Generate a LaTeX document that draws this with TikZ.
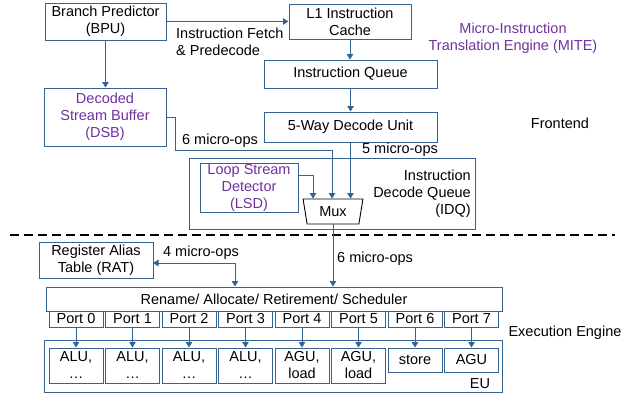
\documentclass[tikz,border=0pt]{standalone}
\usepackage{fontspec}
\setmainfont{Liberation Sans}
\usetikzlibrary{arrows.meta,shapes.geometric,calc}
\definecolor{bblue}{HTML}{36628F}
\definecolor{purp}{HTML}{7030A0}
\newcommand\mybox[7][]{\node[box,#1,minimum width={#5-#3},minimum height={#6-#4}] (#2) at ({(#3+#5)/2},{(#4+#6)/2}) {#7};}
\begin{document}
\begin{tikzpicture}[x=1pt,y=-1pt,
 box/.style={draw=bblue,line width=1pt,inner sep=0pt,align=center,font=\fontsize{14.5}{17}\selectfont},
 arr/.style={draw=bblue,line width=1pt,-{Triangle[length=5.5pt,width=6.5pt]}},
 lbl/.style={inner sep=0pt,align=center,font=\fontsize{14.5}{17}\selectfont},
 ptxt/.style={text=purp}]
\useasboundingbox (0,0) rectangle (635,394);
% frontend boxes
\mybox{bpu}{45}{3}{166}{40}{Branch Predictor\\(BPU)}
\mybox{l1}{289}{4}{411}{39}{L1 Instruction\\Cache}
\mybox{iq}{264}{60}{437}{88}{Instruction Queue}
\mybox{dec}{264}{112}{437}{142}{5-Way Decode Unit}
\mybox[ptxt]{dsb}{44}{88}{166}{146}{Decoded\\Stream Buffer\\(DSB)}
\mybox{idq}{189}{158}{475}{229}{}
\mybox[ptxt]{lsd}{200}{163}{298}{212}{Loop Stream\\Detector\\(LSD)}
\node[lbl,anchor=east,align=right] (idqt) at (471,194) {Instruction\\Decode Queue\\(IDQ)};
\node[draw=black,line width=0.9pt,trapezium,shape border rotate=180,trapezium stretches=true,
      trapezium angle=78,minimum width=60pt,minimum height=25pt,inner sep=0pt,
      font=\fontsize{14.5}{17}\selectfont] (mux) at (333,211.5) {Mux};
% labels
\node[lbl,ptxt] (mite) at (513,38.5) {Micro-Instruction\\Translation Engine (MITE)};
\node[lbl] (fe) at (560,123) {Frontend};
\node[lbl,anchor=west,align=left] (ifp) at (176,41.5) {Instruction Fetch\\\& Predecode};
\node[lbl] (six1) at (220,141) {6 micro-ops};
\node[lbl] (five) at (400,150) {5 micro-ops};
\node[lbl,anchor=west] (six2) at (337,259) {6 micro-ops};
\node[lbl] (four) at (201,253) {4 micro-ops};
\node[lbl] (ee) at (565,333) {Execution Engine};
% frontend arrows
\draw[arr] (bpu.east) -- (l1.west);
\draw[arr] (bpu.south) -- (bpu.south |- dsb.north);
\draw[arr] (l1.south) -- (l1.south |- iq.north);
\draw[arr] (iq.south) -- (iq.south |- dec.north);
\draw[arr] (dec.south) -- (dec.south |- mux.north);
\coordinate (dsbturn) at (175,150);
\coordinate (dsbdown) at (332,150);
\draw[arr] (dsb.east) -| (dsbturn) -- (dsbdown) -- (dsbdown |- mux.north);
\coordinate (lsdout) at (298,175);
\coordinate (lsdturn) at (313,175);
\draw[arr] (lsdout) -- (lsdturn) -- (lsdturn |- mux.north);
% separator
\coordinate (dl) at (10,235);
\coordinate (dr) at (615,235);
\draw[line width=1.1pt,dash pattern=on 9pt off 5pt] (dl) -- (dr);
% execution engine
\mybox{rat}{39}{242}{153}{278}{Register Alias\\Table (RAT)}
\mybox{ren}{46}{287}{502}{311}{Rename/ Allocate/ Retirement/ Scheduler}
\mybox{eu}{44}{340}{502}{392}{}
\node[lbl] (eut) at (480,384) {EU};
\draw[arr] (mux.south) -- (mux.south |- ren.north);
\coordinate (ratin) at (153,263);
\coordinate (ratturn) at (235,263);
\draw[arr,{Triangle[length=5.5pt,width=6.5pt]}-{Triangle[length=5.5pt,width=6.5pt]}] (ratin) -- (ratturn) -- (ratturn |- ren.north);
% ports and units
\foreach \i/\t/\h in {0/{ALU,\\…}/383,1/{ALU,\\…}/383,2/{ALU,\\…}/383,3/{ALU,\\…}/383,4/{AGU,\\load}/383,5/{AGU,\\load}/383,6/{store}/372,7/{AGU}/372}{
  \pgfmathsetmacro\xa{49+56.5*\i}
  \pgfmathsetmacro\xb{\xa+54}
  \mybox{p\i}{\xa}{311}{\xb}{327}{Port \i}
  \mybox{u\i}{\xa}{348}{\xb}{\h}{\t}
  \draw[arr] (p\i.south) -- (u\i.north);
}
\end{tikzpicture}
\end{document}
